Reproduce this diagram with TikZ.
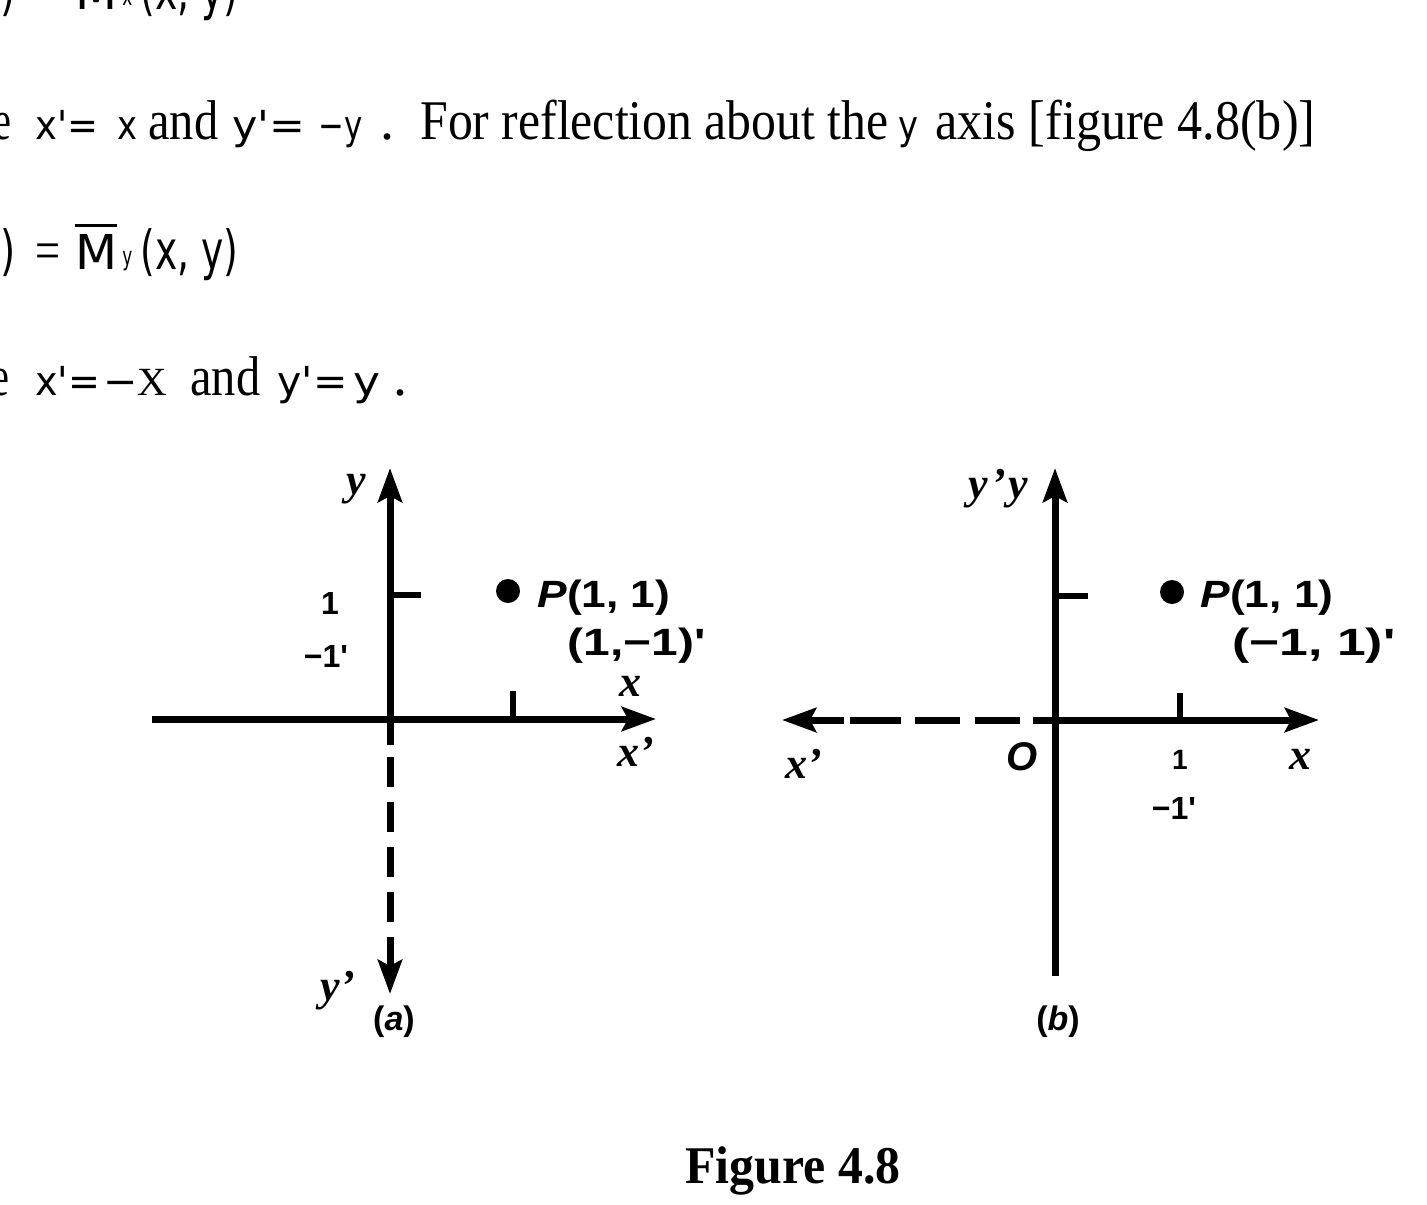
\documentclass[tikz,border=0pt]{standalone}
\usepackage{fontspec}
\usepackage{graphicx}
\setmainfont{Liberation Serif}
\newfontfamily\dvs{DejaVu Sans}
\newfontfamily\lsans{Liberation Sans}
\usetikzlibrary{arrows.meta}
\newcommand\fitw[2]{\resizebox{#1}{\height}{#2}}
\tikzset{
  txt/.style={inner sep=0pt, anchor=base west},
  axisline/.style={line width=3.5pt},
  ticklen/.style={line width=3pt},
  tipend/.style={-{Stealth[length=17pt,width=12pt,inset=3pt]}},
  serif/.style={font=\rmfamily\fontsize{28}{28}\selectfont},
  sansv/.style={font=\dvs\fontsize{20}{20}\selectfont},
  sansm/.style={font=\dvs\fontsize{24}{24}\selectfont},
  sansp/.style={font=\dvs\fontsize{27}{27}\selectfont},
  lbl/.style={inner sep=0pt, font=\lsans\bfseries\fontsize{19}{19}\selectfont},
  lett/.style={inner sep=0pt, font=\rmfamily\bfseries\itshape\fontsize{22}{22}\selectfont},
  small/.style={inner sep=0pt, font=\lsans\bfseries\fontsize{14}{14}\selectfont},
  dotp/.style={fill=black, circle, inner sep=0pt, minimum size=12pt}
}
\begin{document}
\begin{tikzpicture}[x=0.5pt,y=-0.5pt]
\useasboundingbox (0,0) rectangle (1427,1204);
\clip (0,0) rectangle (1427,1204);

% ---------- line 1 (cut at top) ----------
\node[txt,sansp,anchor=base east] (l1a) at (16,10) {\scalebox{0.72}[1]{')}};
\node[txt,serif] (l1b) at (35,10) {\fitw{12.5pt}{=}};
\node[txt,sansm] (l1c) at (75,10) {\fitw{21pt}{M}};
\node[txt,font=\dvs\fontsize{13}{13}\selectfont] (l1d) at (122,6) {\fitw{5pt}{x}};
\node[txt,sansp] (l1e) at (140,10) {\fitw{49pt}{(x, y)}};

% ---------- line 2 ----------
\node[txt,serif,anchor=base east] (l2a) at (12,140) {\scalebox{0.72}[1]{e}};
\node[txt,sansv] (l2b) at (35,140) {\fitw{31.5pt}{x'=}};
\node[txt,sansv] (l2c) at (117,140) {\fitw{10pt}{x}};
\node[txt,serif] (l2d) at (148,140) {\fitw{35pt}{and}};
\node[txt,sansv] (l2e) at (232,140) {\fitw{36.5pt}{y'=}};
\node[txt,sansv] (l2f) at (318,140) {\fitw{22pt}{−y}};
\node[txt,serif] (l2g) at (380,140) {.};
\node[txt,serif] (l2h) at (420,140) {\fitw{234pt}{For reflection about the}};
\node[txt,sansv] (l2i) at (898,140) {\fitw{10pt}{y}};
\node[txt,serif] (l2j) at (935,140) {\fitw{190pt}{axis [figure 4.8(b)]}};

% ---------- line 3 ----------
\node[txt,sansp,anchor=base east] (l3a) at (16,269) {\scalebox{0.72}[1]{')}};
\node[txt,serif] (l3b) at (35,269) {\fitw{12.5pt}{=}};
\node[txt,sansm] (l3c) at (75,269) {\fitw{21pt}{M}};
\draw[line width=1.2pt] (l3c.north west) ++(0,-8) coordinate (ovl) -- ++(42,0) coordinate (ovr);
\node[txt,font=\dvs\fontsize{13}{13}\selectfont] (l3d) at (122,265) {\fitw{5pt}{y}};
\node[txt,sansp] (l3e) at (140,269) {\fitw{49pt}{(x, y)}};

% ---------- line 4 ----------
\node[txt,serif,anchor=base east] (l4a) at (10,395) {\scalebox{0.72}[1]{e}};
\node[txt,sansv] (l4b) at (35,395) {\fitw{32.5pt}{x'=}};
\node[txt,sansv] (l4c) at (103,395) {\fitw{32pt}{−\rmfamily X}};
\node[txt,serif] (l4d) at (190,395) {\fitw{35pt}{and}};
\node[txt,sansv] (l4e) at (277,395) {\fitw{35pt}{y'=}};
\node[txt,sansv] (l4f) at (353,395) {\fitw{13.5pt}{y}};
\node[txt,serif] (l4g) at (393,395) {.};

% ================= diagram (a) =================
\coordinate (oa) at (390,719);
\coordinate (ayt) at (390,468);
\coordinate (ayb) at (390,745);
\coordinate (axl) at (152,719);
\coordinate (axr) at (656,719);
\draw[axisline] (ayb) -- (oa);
\draw[axisline,tipend] (oa) -- (ayt);
\draw[axisline] (axl) -- (oa);
\draw[axisline,tipend] (oa) -- (axr);
% dashed y'
\coordinate (ad1a) at (390,757); \coordinate (ad1b) at (390,787);
\coordinate (ad2a) at (390,802); \coordinate (ad2b) at (390,832);
\coordinate (ad3a) at (390,847); \coordinate (ad3b) at (390,877);
\coordinate (ad4a) at (390,892); \coordinate (ad4b) at (390,922);
\coordinate (ad5a) at (390,937); \coordinate (ayd) at (390,994);
\draw[axisline] (ad1a) -- (ad1b);
\draw[axisline] (ad2a) -- (ad2b);
\draw[axisline] (ad3a) -- (ad3b);
\draw[axisline] (ad4a) -- (ad4b);
\draw[axisline,tipend] (ad5a) -- (ayd);
% ticks
\coordinate (at1) at (390,595); \coordinate (at2) at (421,595);
\draw[ticklen] (at1) -- (at2);
\coordinate (at3) at (513,719); \coordinate (at4) at (513,691);
\draw[ticklen] (at3) -- (at4);
% labels
\node[lett] (ay) at (356,489) {y};
\node[lbl,font=\lsans\bfseries\fontsize{16}{16}\selectfont] (a1) at (330,603) {1};
\node[small,font=\lsans\bfseries\fontsize{16}{16}\selectfont] (am1) at (326,656) {−1'};
\node[dotp] (aP) at (508,591) {};
\node[lbl,txt] (aPt) at (537,607) {\fitw{66.5pt}{\textit{P}(1, 1)}};
\node[lbl,txt] (aPr) at (567,655) {\fitw{69pt}{(1,−1)'}};
\node[lett] (ax) at (630,686) {x};
\node[lett] (axp) at (636,752) {x'};
\node[lett] (ayp) at (338,991) {y'};
\node[lbl,font=\lsans\bfseries\fontsize{17}{17}\selectfont] (acap) at (394,1022) {(\textit{a})};

% ================= diagram (b) =================
\coordinate (ob) at (1055,720);
\coordinate (byt) at (1055,468);
\coordinate (byb) at (1055,976);
\coordinate (bxr) at (1319,720);
\draw[axisline,tipend] (byb) -- (byt);
\draw[axisline,tipend] (ob) -- (bxr);
% dashed x'
\coordinate (bd1a) at (1033,720);
\coordinate (bd2a) at (1020,720); \coordinate (bd2b) at (975,720);
\coordinate (bd3a) at (960,720); \coordinate (bd3b) at (915,720);
\coordinate (bd4a) at (901,720); \coordinate (bd4b) at (850,720);
\coordinate (bd5a) at (844,720); \coordinate (bxl) at (782,720);
\draw[axisline] (ob) -- (bd1a);
\draw[axisline] (bd2a) -- (bd2b);
\draw[axisline] (bd3a) -- (bd3b);
\draw[axisline] (bd4a) -- (bd4b);
\draw[axisline,tipend] (bd5a) -- (bxl);
% ticks
\coordinate (bt1) at (1055,596); \coordinate (bt2) at (1088,596);
\draw[ticklen] (bt1) -- (bt2);
\coordinate (bt3) at (1180,720); \coordinate (bt4) at (1180,693);
\draw[ticklen] (bt3) -- (bt4);
% labels
\node[lett] (byy) at (998,489) {y\kern2pt'\kern1pt y};
\node[dotp] (bP) at (1172,592) {};
\node[lbl,txt] (bPt) at (1200,607) {\fitw{66.5pt}{\textit{P}(1, 1)}};
\node[lbl,txt] (bPr) at (1232,655) {\fitw{81.5pt}{(−1, 1)'}};
\node[lbl,font=\lsans\bfseries\itshape\fontsize{20}{20}\selectfont] (bO) at (1022,757) {O};
\node[lett] (bxp) at (804,764) {x'};
\node[lbl,font=\lsans\bfseries\fontsize{14}{14}\selectfont] (b1) at (1180,760) {1};
\node[lett] (bx) at (1300,759) {x};
\node[small,font=\lsans\bfseries\fontsize{16}{16}\selectfont] (bm1) at (1174,808) {−1'};
\node[lbl,font=\lsans\bfseries\fontsize{17}{17}\selectfont] (bcap) at (1058,1022) {(\textit{b})};

% caption
\node[txt,font=\rmfamily\bfseries\fontsize{26.5}{26.5}\selectfont] (cap) at (685,1183) {\fitw{107.5pt}{Figure 4.8}};
\end{tikzpicture}
\end{document}
